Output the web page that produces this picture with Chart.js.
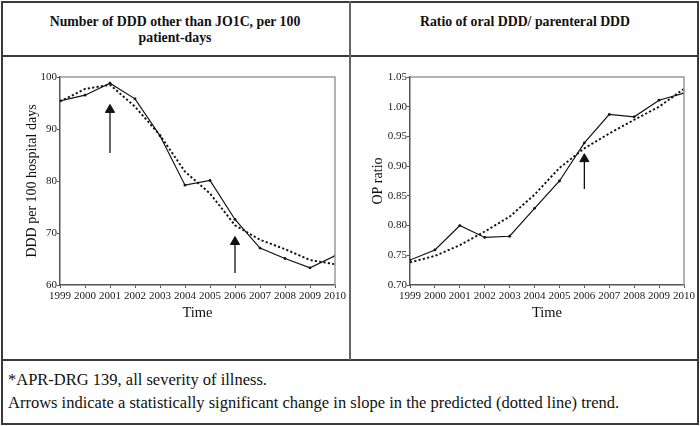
<!DOCTYPE html>
<html>
<head>
<meta charset="utf-8">
<script src="https://cdn.jsdelivr.net/npm/chart.js@4/dist/chart.umd.min.js"></script>
<style>
  html, body { margin: 0; padding: 0; background: #fff; }
  #page { position: relative; width: 700px; height: 426px; overflow: hidden; font-family: "Liberation Serif", Tinos, "Times New Roman", Times, "DejaVu Serif", serif; color: #111; }
  .ln { position: absolute; background: #3a3a3a; }
  .title { position: absolute; top: 14px; width: 348px; text-align: center; font-weight: bold; font-size: 13.8px; line-height: 16px; }
  .foot { position: absolute; left: 8px; font-size: 16.5px; line-height: 20px; white-space: nowrap; }
  canvas { position: absolute; }
</style>
</head>
<body>
<div id="page">
  <div class="ln" style="left:1px;top:1px;width:698px;height:1.5px;"></div>
  <div class="ln" style="left:1px;top:423px;width:698px;height:1.5px;"></div>
  <div class="ln" style="left:1px;top:1px;width:1.5px;height:424px;"></div>
  <div class="ln" style="left:697px;top:1px;width:1.5px;height:424px;"></div>
  <div class="ln" style="left:1px;top:55px;width:698px;height:1.5px;"></div>
  <div class="ln" style="left:1px;top:359px;width:698px;height:1.5px;"></div>
  <div class="ln" style="left:349px;top:1px;width:2px;height:359px;background:#666;"></div>

  <div class="title" style="left:1px;">Number of DDD other than JO1C, per 100<br>patient-days</div>
  <div class="title" style="left:351px;">Ratio of oral DDD/ parenteral DDD</div>

  <canvas id="c1" width="347" height="302" style="left:2px;top:57px;"></canvas>
  <canvas id="c2" width="346" height="302" style="left:351px;top:57px;"></canvas>

  <div class="foot" style="top:370px;">*APR-DRG 139, all severity of illness.</div>
  <div class="foot" style="top:393px;">Arrows indicate a statistically significant change in slope in the predicted (dotted line) trend.</div>
</div>
<script>
// ---- data ----
const years = [1999, 2000, 2001, 2002, 2003, 2004, 2005, 2006, 2007, 2008, 2009, 2010];
const dddObserved  = [95.4, 96.5, 98.8, 95.8, 88.7, 79.2, 80.1, 72.6, 67.1, 65.1, 63.3, 65.6];
const dddPredicted = [95.3, 97.7, 98.5, 94.3, 88.8, 81.8, 77.6, 71.5, 68.7, 66.9, 64.8, 64.0];
const opObserved   = [0.742, 0.759, 0.800, 0.780, 0.782, 0.829, 0.875, 0.939, 0.987, 0.983, 1.011, 1.023];
const opPredicted  = [0.738, 0.749, 0.767, 0.790, 0.815, 0.852, 0.897, 0.930, 0.955, 0.978, 1.000, 1.030];
// arrows: [year, tail value, head value]
const dddArrows = [[2001, 85.4, 93.7], [2006, 62.3, 68.3]];
const opArrows  = [[2006, 0.8615, 0.912]];
const dddTicks = [60, 70, 80, 90, 100];
const opTicks  = [0.70, 0.75, 0.80, 0.85, 0.90, 0.95, 1.00, 1.05];

const SERIF = '"Liberation Serif", Tinos, "Times New Roman", Times, "DejaVu Serif", serif';

function pts(ys) { return years.map((x, i) => ({ x: x, y: ys[i] })); }

function arrowSets(arrows) {
  return arrows.map(a => ({
    data: [{ x: a[0], y: a[1] }, { x: a[0], y: a[2] }],
    borderColor: '#111',
    backgroundColor: '#111',
    borderWidth: 1.3,
    pointStyle: 'triangle',
    pointRadius: [0, 5.3],
    pointBorderWidth: 1,
    pointHoverRadius: 0,
    tension: 0
  }));
}

const frame = {
  id: 'frame',
  afterDatasetsDraw(chart) {
    const { ctx, chartArea: a } = chart;
    ctx.save();
    ctx.strokeStyle = '#9a9a9a';
    ctx.lineWidth = 1.5;
    ctx.beginPath();
    ctx.moveTo(a.left, a.top);
    ctx.lineTo(a.right, a.top);
    ctx.lineTo(a.right, a.bottom);
    ctx.stroke();
    ctx.restore();
  }
};

function makeChart(id, obs, pred, arrows, ticks, yMin, yMax, yTitle, yAxisW, titlePad, padRight, fmt) {
  return new Chart(document.getElementById(id), {
    type: 'line',
    data: {
      datasets: [
        {
          data: pts(obs),
          borderColor: '#111',
          backgroundColor: '#111',
          borderWidth: 1.2,
          pointRadius: 1.4,
          pointBorderWidth: 0,
          tension: 0
        },
        {
          data: pts(pred),
          borderColor: '#111',
          borderWidth: 1.9,
          borderDash: [2.2, 2.2],
          pointRadius: 0,
          tension: 0
        }
      ].concat(arrowSets(arrows))
    },
    options: {
      responsive: false,
      animation: false,
      events: [],
      layout: { padding: { left: 0, top: 20, right: padRight, bottom: 34 } },
      plugins: { legend: { display: false }, tooltip: { enabled: false } },
      scales: {
        x: {
          type: 'linear',
          min: years[0],
          max: years[years.length - 1],
          afterBuildTicks: s => { s.ticks = years.map(v => ({ value: v })); },
          afterFit: s => { s.height = 40; },
          ticks: {
            callback: v => String(v),
            color: '#1a1a1a',
            font: { family: SERIF, size: 11 },
            padding: 2,
            maxRotation: 0,
            autoSkip: false
          },
          grid: { drawOnChartArea: false, tickLength: 3, color: '#555' },
          border: { color: '#555', width: 1.5, dash: [1.5, 1.5] },
          title: {
            display: true,
            text: 'Time',
            color: '#111',
            font: { family: SERIF, size: 14.5 },
            padding: { top: 0, bottom: 3 }
          }
        },
        y: {
          min: yMin,
          max: yMax,
          afterBuildTicks: s => { s.ticks = ticks.map(v => ({ value: v })); },
          afterFit: s => { s.width = yAxisW; },
          ticks: {
            callback: fmt,
            color: '#1a1a1a',
            font: { family: SERIF, size: 11 },
            padding: 0
          },
          grid: { drawOnChartArea: false, tickLength: 3, color: '#555' },
          border: { color: '#555', width: 1.5, dash: [1.5, 1.5] },
          title: {
            display: true,
            text: yTitle,
            color: '#111',
            font: { family: SERIF, size: 14 },
            padding: { top: titlePad, bottom: 0 }
          }
        }
      }
    },
    plugins: [frame]
  });
}

makeChart('c1', dddObserved, dddPredicted, dddArrows, dddTicks, 60, 100,
  'DDD per 100 hospital days', 58, 22, 14, v => String(v));
makeChart('c2', opObserved, opPredicted, opArrows, opTicks, 0.70, 1.05,
  'OP ratio', 59, 19, 12, v => Number(v).toFixed(2));
</script>
</body>
</html>
